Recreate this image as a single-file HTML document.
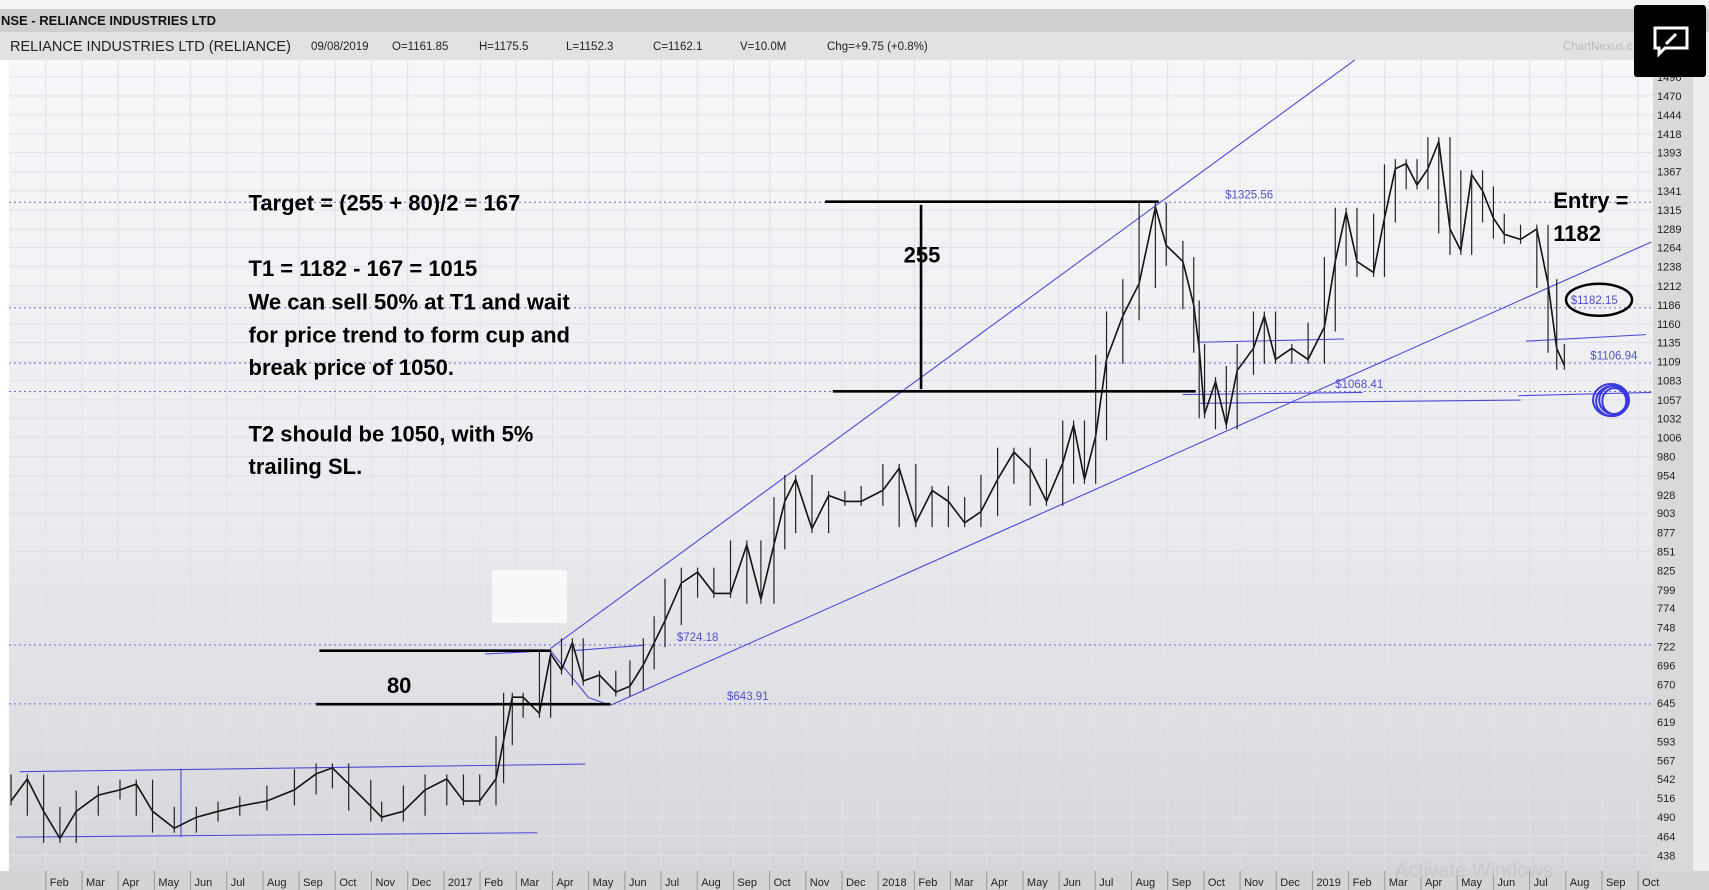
<!DOCTYPE html>
<html><head><meta charset="utf-8"><style>
html,body{margin:0;padding:0;background:#fff;}
svg{display:block;font-family:"Liberation Sans",sans-serif;}
</style></head><body>
<svg id="chart" width="1709" height="890" viewBox="0 0 1709 890">
<defs>
<linearGradient id="bg" x1="0" y1="0" x2="0" y2="1">
<stop offset="0" stop-color="#f7f7fa"/><stop offset="0.55" stop-color="#ececf0"/><stop offset="1" stop-color="#d6d6da"/>
</linearGradient>
</defs>
<rect x="0" y="0" width="1709" height="9" fill="#f4f4f4"/>
<rect x="0" y="9" width="1709" height="23" fill="#cfcfcf"/>
<text x="1" y="25" font-size="13" font-weight="bold" fill="#111">NSE - RELIANCE INDUSTRIES LTD</text>
<rect x="0" y="32" width="1709" height="28" fill="#e2e2e2"/>
<g font-size="11.5" fill="#222">
<text x="10" y="51" font-size="14.5">RELIANCE INDUSTRIES LTD (RELIANCE)</text>
<text x="311" y="50">09/08/2019</text><text x="392" y="50">O=1161.85</text><text x="479" y="50">H=1175.5</text>
<text x="566" y="50">L=1152.3</text><text x="653" y="50">C=1162.1</text><text x="740" y="50">V=10.0M</text>
<text x="827" y="50">Chg=+9.75 (+0.8%)</text>
<text x="1563" y="50" fill="#bbb">ChartNexus.c</text>
</g>
<rect x="9" y="60" width="1644" height="811" fill="url(#bg)"/>
<rect x="1653" y="60" width="40" height="811" fill="#d9d9d9"/>
<rect x="1693" y="32" width="16" height="858" fill="#eeeeee"/>
<rect x="0" y="871" width="1709" height="19" fill="#d4d4d4"/>
<g id="grid"></g>
<g id="yticks" font-size="11" fill="#222"></g>
<g id="xticks" font-size="11" fill="#222"></g>
<rect x="492" y="570" width="75" height="53" fill="#fafafa" opacity="0.9"/>
<g id="dotted"></g>
<g id="trend" stroke="#4a4ad8" stroke-width="1.1" fill="none"></g>
<g id="price"></g>
<g id="annot"></g>
<rect x="1634" y="5" width="72" height="72" rx="3" fill="#000"/>
<g stroke="#fff" stroke-width="3" fill="none">
<path d="M1655 28 h32 v20 h-22 l-6 6 v-6 h-4 z"/><path d="M1666 44 l10 -10" stroke-width="3"/>
</g>
<text x="1395" y="877" font-size="20" fill="#c8c8cc">Activate Windows</text>
</svg>
<script>
const NS="http://www.w3.org/2000/svg";
const monthT=[-0.96,-0.51,-0.06,0.39,0.84,1.45,2.05,2.5,2.95,3.55,4.16,4.76,5.36,6.11,6.87,7.47,7.92,8.37,8.98,9.28,9.88,10.48,11.08,11.54,11.99,12.44,12.65,12.89,13.19,13.64,13.95,14.25,14.55,14.85,15.30,15.75,16.14,16.51,16.81,17.11,17.56,18.01,18.46,18.92,19.37,19.76,20.12,20.42,20.72,21.17,21.63,22.08,22.53,23.13,23.58,24.04,24.49,24.94,25.39,25.84,26.30,26.75,27.20,27.65,28.10,28.40,28.70,29.01,29.31,29.76,30.21,30.66,30.96,31.42,31.72,31.87,32.02,32.32,32.62,32.92,33.37,33.67,33.98,34.43,34.88,35.33,35.63,35.93,36.23,36.69,36.99,37.29,37.59,37.89,38.19,38.49,38.80,39.10,39.40,39.70,40.00,40.30,40.75,41.20,41.51,41.75,41.96];
const closes=[512,542,498,461,498,520,527,535,498,475,490,498,505,512,527,549,557,535,505,490,498,527,542,512,512,542,594,653,653,631,712,690,727,675,683,660,668,697,727,757,808,823,794,794,860,786,860,919,949,882,927,919,919,934,964,890,934,919,890,905,949,986,964,919,971,1023,949,1008,1112,1171,1215,1319,1267,1245,1186,1127,1038,1082,1023,1097,1127,1171,1112,1127,1112,1156,1245,1312,1245,1230,1304,1371,1378,1349,1371,1408,1289,1260,1363,1341,1304,1282,1275,1289,1215,1127,1104];
const yTicks=[1496,1470,1444,1418,1393,1367,1341,1315,1289,1264,1238,1212,1186,1160,1135,1109,1083,1057,1032,1006,980,954,928,903,877,851,825,799,774,748,722,696,670,645,619,593,567,542,516,490,464,438];
const xLabels=["Feb","Mar","Apr","May","Jun","Jul","Aug","Sep","Oct","Nov","Dec","2017","Feb","Mar","Apr","May","Jun","Jul","Aug","Sep","Oct","Nov","Dec","2018","Feb","Mar","Apr","May","Jun","Jul","Aug","Sep","Oct","Nov","Dec","2019","Feb","Mar","Apr","May","Jun","Jul","Aug","Sep","Oct"];
const levels=[1325.56,1182.15,1106.94,1068.41,724.18,643.91];
const X=t=>45.8+t*36.19;
const Y=p=>95.9+(1470-p)*0.736;
function el(tag,attrs,parent,txt){const e=document.createElementNS(NS,tag);for(const k in attrs)e.setAttribute(k,attrs[k]);if(txt!==undefined)e.textContent=txt;parent.appendChild(e);return e;}
const grid=document.getElementById('grid');
yTicks.forEach(v=>{const y=Y(v);if(y<62)return;el('line',{x1:9,x2:1653,y1:y,y2:y,stroke:'#e0e0e6','stroke-width':1},grid);});
xLabels.forEach((l,i)=>{const x=X(i);el('line',{x1:x,x2:x,y1:60,y2:871,stroke:'#e0e0e6','stroke-width':1},grid);});
const yt=document.getElementById('yticks');
yTicks.forEach(v=>{const y=Y(v);if(y<70)return;const t=el('text',{x:1657,y:y+4},yt,String(v));

});
const xt=document.getElementById('xticks');
xLabels.forEach((l,i)=>{const x=X(i);el('line',{x1:x,x2:x,y1:871,y2:890,stroke:'#999'},xt);const t=el('text',{x:x+4,y:886},xt,l);

});
const dg=document.getElementById('dotted');
levels.forEach(v=>{const l=el('line',{x1:9,x2:1653,y1:Y(v),y2:Y(v),stroke:'#6a6ad8','stroke-width':1,'stroke-dasharray':'2,3'},dg);

});
const pg=document.getElementById('price');
let d='';closes.forEach((c,i)=>{d+=(i?'L':'M')+X(monthT[i]).toFixed(1)+' '+Y(c).toFixed(1);});
const pl=el('path',{d:d,stroke:'#111','stroke-width':1.6,fill:'none'},pg);


closes.forEach((c,i)=>{const a=closes[Math.max(0,i-1)],b=closes[Math.min(closes.length-1,i+1)];
const hi=Math.max(a,c,b)+6,lo=Math.min(a,c,b)-6;
const bar=el('line',{x1:X(monthT[i]),x2:X(monthT[i]),y1:Y(hi),y2:Y(lo),stroke:'#222','stroke-width':1.2},pg);

});
const tg=document.getElementById('trend');const s=1.09;
const segs=[[505,595,1243,55],[560,647,1515,222],[18,708,537,701],[15,768,493,764],[166,705,166,768],[445,600,505,597],[505,597,540,640],[540,640,560,647],[525,597,590,592],[1100,314,1233,311],[1085,362,1250,360],[1100,370,1395,367],[1393,363,1515,360],[1400,313,1510,307]];
segs.forEach(q=>{const l=el('line',{x1:q[0]*s,y1:q[1]*s,x2:q[2]*s,y2:q[3]*s},tg);

});
const ag=document.getElementById('annot');
[[757,185,1063,185],[764,359,1097,359],[845,188,845,357],[293,597,505,597],[290,646,560,646]].forEach(q=>{const l=el('line',{x1:q[0]*s,y1:q[1]*s,x2:q[2]*s,y2:q[3]*s,stroke:'#000','stroke-width':2.6},ag);

});
const txt=[["Target = (255 + 80)/2 = 167",228,193],["T1 = 1182 - 167 = 1015",228,253],["We can sell 50% at T1 and wait",228,284],["for price trend to form cup and",228,314],["break  price of 1050.",228,344],["T2 should be 1050, with 5%",228,405],["trailing SL.",228,435],["255",829,241],["80",355,636],["Entry =",1425,191],["1182",1425,221]];
txt.forEach(t=>{const e=el('text',{x:t[1]*s,y:t[2]*s,'font-size':22,'font-weight':'bold',fill:'#000','font-family':'"Liberation Sans Narrow","Liberation Sans",sans-serif','xml:space':'preserve'},ag,t[0]);

});
[["$1325.56",1124,182],["$1106.94",1459,330],["$1068.41",1225,356],["$724.18",621,588],["$643.91",667,642],["$1182.15",1441,279]].forEach(t=>{const e=el('text',{x:t[1]*s,y:t[2]*s,'font-size':11.5,fill:'#5050c8'},ag,t[0]);

});
el('ellipse',{cx:1467*s,cy:275*s,rx:33,ry:16,fill:'none',stroke:'#000','stroke-width':2.5},ag);
for(let k=0;k<4;k++)el('ellipse',{cx:(1478+k)*s,cy:(367+k%2)*s,rx:18-k*2,ry:16-k,fill:'none',stroke:'#3a3ae0','stroke-width':2},ag);
</script>
</body></html>
